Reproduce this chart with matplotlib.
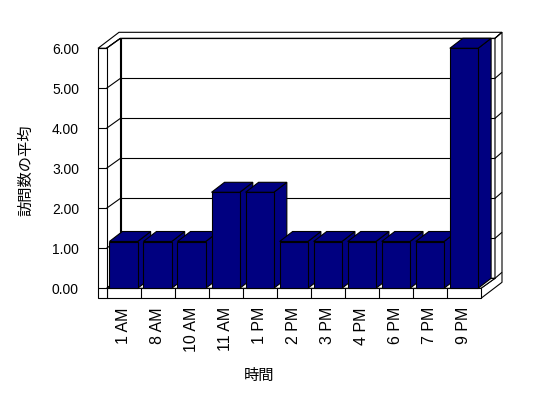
import matplotlib
matplotlib.use("Agg")
import matplotlib.pyplot as plt
from matplotlib.patches import Polygon

# データ
hours = ['1 AM', '8 AM', '10 AM', '11 AM', '1 PM', '2 PM', '3 PM', '4 PM', '6 PM', '7 PM', '9 PM']
avg_visits = [1.17, 1.17, 1.17, 2.4, 2.4, 1.17, 1.17, 1.17, 1.17, 1.17, 6.0]
y_ticks = [0, 1, 2, 3, 4, 5, 6]
y_ticklabels = ['0.00', '1.00', '2.00', '3.00', '4.00', '5.00', '6.00']

W, H = 548, 398
fig = plt.figure(figsize=(W / 100, H / 100), dpi=100)
fig.patch.set_facecolor('white')

# front plane of the 3D box (pixels -> figure fraction)
left_px, right_px, top_px, bottom_px = 106.5, 481.0, 48.3, 288.3
ax = fig.add_axes([left_px / W, (H - bottom_px) / H,
                   (right_px - left_px) / W, (bottom_px - top_px) / H])
ax.set_xlim(-0.5, len(hours) - 0.5)
ax.set_ylim(0, 6)
ax.patch.set_visible(False)
for s in ax.spines.values():
    s.set_visible(False)

cw = (right_px - left_px) / len(hours)   # px per category
vu = (bottom_px - top_px) / 6            # px per value unit

def off(dx, dy):
    return dx / cw, dy / vu

Dx, Dy = off(14, 10)     # depth to back wall
Bx, By = off(21, 16)     # depth to back face of the wall slab
tw, _ = off(8.5, 0)      # left wall thickness
_, tf = off(0, 10)       # floor thickness
bx, by = off(13, 10)     # bar depth
bw = 0.83                # bar width

x0, x1 = -0.5, len(hours) - 0.5
ymax = y_ticks[-1]
kw = dict(ec='black', lw=0.8, clip_on=False, joinstyle='miter')

def poly(pts, fc='white', z=1):
    ax.add_patch(Polygon(pts, closed=True, fc=fc, zorder=z, **kw))

def line(xs, ys, z=1.5):
    ax.plot(xs, ys, color='black', lw=0.8, clip_on=False, zorder=z,
            solid_capstyle='butt')

# back wall
poly([(x0 + Dx, Dy), (x1 + Dx, Dy), (x1 + Dx, ymax + Dy), (x0 + Dx, ymax + Dy)])
# top of walls
poly([(x0 - tw, ymax), (x0, ymax), (x0 + Dx, ymax + Dy), (x1 + Dx, ymax + Dy),
      (x1 + Bx, ymax + By), (x0 - tw + Bx, ymax + By)])
# right side of floor + back wall
poly([(x1, 0), (x1, -tf), (x1 + Bx, -tf + By), (x1 + Bx, ymax + By),
      (x1 + Dx, ymax + Dy), (x1 + Dx, Dy)])
# left wall inner face
poly([(x0, 0), (x0, ymax), (x0 + Dx, ymax + Dy), (x0 + Dx, Dy)])
# floor top
poly([(x0, 0), (x1, 0), (x1 + Dx, Dy), (x0 + Dx, Dy)])
# floor front
poly([(x0, -tf), (x1, -tf), (x1, 0), (x0, 0)])
# left wall front
poly([(x0 - tw, -tf), (x0, -tf), (x0, ymax), (x0 - tw, ymax)])

for k in y_ticks:
    line([x0 - tw, x0], [k, k])
    line([x0, x0 + Dx], [k, k + Dy])
    line([x0 + Dx, x1 + Dx], [k + Dy, k + Dy])
    line([x1 + Dx, x1 + Bx], [k + Dy, k + By])
for i in range(1, len(hours)):
    line([i - 0.5, i - 0.5], [-tf, 0])

# bars
navy = '#000080'
for i, v in enumerate(avg_visits):
    l, r = i - bw / 2, i + bw / 2
    z = 3 + i * 0.1
    poly([(r, 0), (r + bx, by), (r + bx, v + by), (r, v)], fc=navy, z=z)
    poly([(l, v), (r, v), (r + bx, v + by), (l + bx, v + by)], fc=navy, z=z)
    ax.bar(i, v, width=bw, color=navy, edgecolor='black', linewidth=0.8,
           zorder=z + 0.05, clip_on=False)

# axes text
ax.set_xticks(range(len(hours)))
ax.set_xticklabels(hours, rotation=90, family='Liberation Sans', fontsize=11.5)
ax.set_yticks(y_ticks)
ax.set_yticklabels(y_ticklabels, family='Liberation Sans', fontsize=10)
ax.tick_params(axis='x', length=0, pad=13.5)
ax.tick_params(axis='y', length=0, pad=19.8)

jp = ['Noto Sans CJK JP', 'DejaVu Sans']
ax.set_ylabel('訪問数の平均', family=jp, fontsize=11, va='center')
ax.yaxis.set_label_coords((26 - left_px) / (right_px - left_px),
                          (bottom_px - 170) / (bottom_px - top_px))
ax.set_xlabel('時間', family=jp, fontsize=11, va='center')
ax.xaxis.set_label_coords((259 - left_px) / (right_px - left_px),
                          (bottom_px - 375) / (bottom_px - top_px))

plt.savefig('out.png', dpi=100, facecolor='white')
